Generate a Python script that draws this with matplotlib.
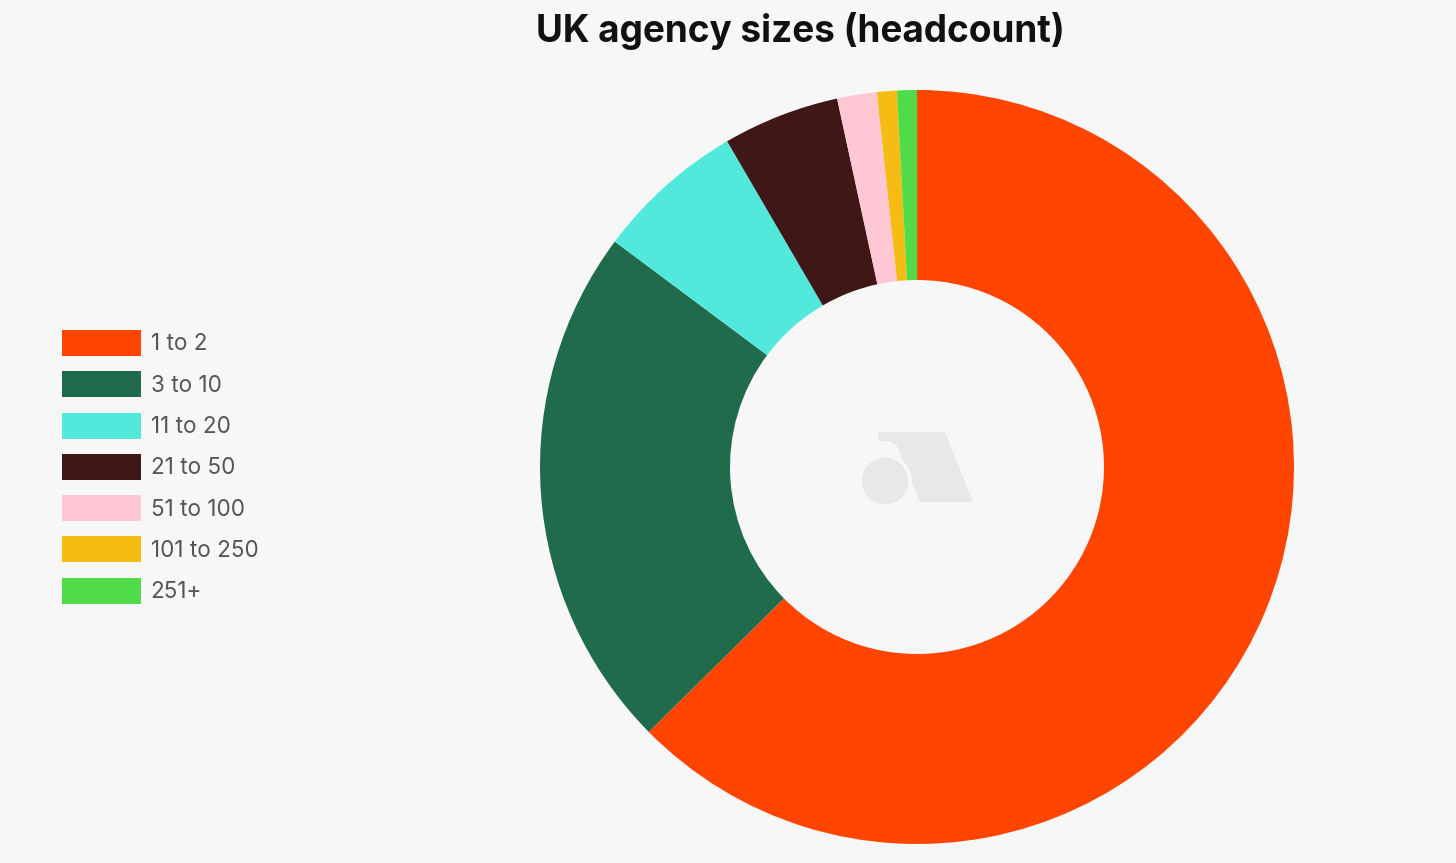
import matplotlib.pyplot as plt
from matplotlib.patches import Circle, Polygon

labels = ['1 to 2', '3 to 10', '11 to 20', '21 to 50', '51 to 100', '101 to 250', '251+']
shares = [62.6, 22.6, 6.4, 5.0, 1.7, 0.85, 0.85]
colors = ['#FF4500', '#1F6B4C', '#52E8DC', '#3E1716', '#FFC6D3', '#F5BC14', '#50DC48']

plt.rcParams['font.family'] = ['Inter', 'DejaVu Sans']
bg = '#f7f7f7'

fig = plt.figure(figsize=(14.56, 8.63), dpi=100, facecolor=bg)

# donut centred at (917, 467) px, outer radius 377 px
W, H = 1456, 863
cx, cy, r = 917, 467, 377
ax = fig.add_axes([(cx - r) / W, 1 - (cy + r) / H, 2 * r / W, 2 * r / H])
ax.set_facecolor(bg)

wedges, _ = ax.pie(shares, colors=colors, startangle=90, counterclock=False,
                   radius=1, wedgeprops=dict(width=0.504, edgecolor='none'))
ax.set_xlim(-1, 1)
ax.set_ylim(-1, 1)
ax.set_aspect('equal')
ax.axis('off')

# faint watermark logo in the hole
def px(x, y):
    return ((x - cx) / r, (cy - y) / r)

logo_col = '#e8e8e8'
ax.add_patch(Polygon([px(878, 432), px(945, 432), px(973, 502), px(920, 502),
                      px(897, 446), px(890, 441), px(878, 441)], closed=True,
                     facecolor=logo_col, edgecolor='none'))
ax.add_patch(Circle(px(885, 481), 25 / r, facecolor=logo_col, edgecolor=bg, lw=2.5))

fig.text(800 / W, 1 - 31 / H, 'UK agency sizes (headcount)', ha='center', va='center',
         fontsize=26.6, fontweight='bold', color='#111111')

leg = fig.legend(wedges, labels, loc='upper left', bbox_to_anchor=(62 / W, 1 - 330 / H),
                 frameon=False, fontsize=16.2, handlelength=3.5, handleheight=1.4,
                 handletextpad=0.44, labelspacing=0.68, borderpad=0, borderaxespad=0)
for t in leg.get_texts():
    t.set_color('#555555')

fig.savefig('out.png', dpi=100, facecolor=bg)
